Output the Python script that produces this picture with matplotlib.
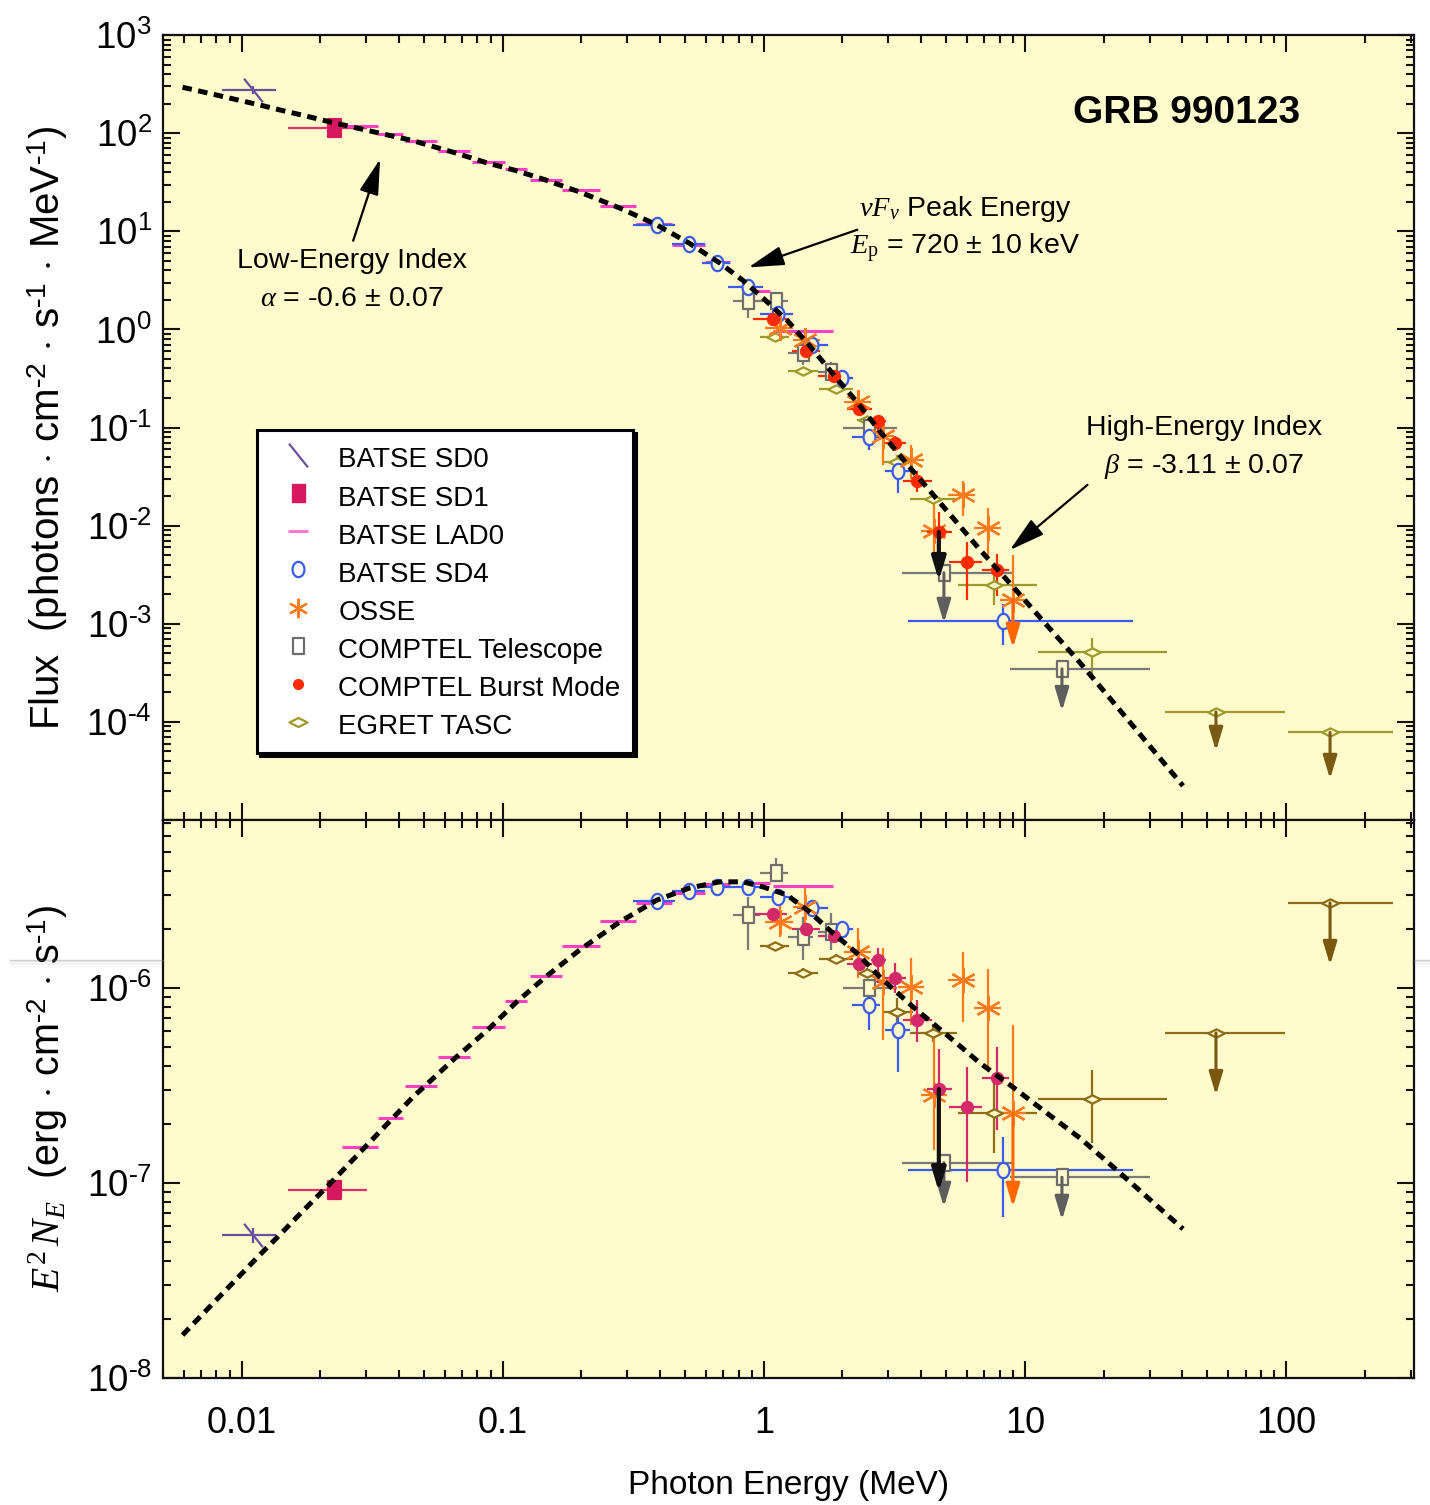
import numpy as np
import matplotlib
matplotlib.use("Agg")
import matplotlib.pyplot as plt
from matplotlib.path import Path
from matplotlib.lines import Line2D
from matplotlib.ticker import LogLocator, FuncFormatter, NullFormatter

plt.rcParams["font.family"] = ["Liberation Sans", "DejaVu Sans"]
plt.rcParams["mathtext.fontset"] = "custom"
plt.rcParams["mathtext.rm"] = "Liberation Serif"
plt.rcParams["mathtext.it"] = "Liberation Serif:italic"
plt.rcParams["mathtext.bf"] = "Liberation Serif:bold"
plt.rcParams["mathtext.sf"] = "Liberation Sans"

MEV_TO_ERG = 1.602e-6
nan = np.nan

# ---------------- data: energies in MeV, E^2 N_E in erg cm^-2 s^-1 ----------------
# Band-function fit (dashed curve)
model_energy = [0.00594, 0.00748, 0.00957, 0.01172, 0.0140, 0.01714, 0.02193, 0.0266,
                0.0338, 0.0452, 0.0655, 0.0877, 0.1122, 0.1449, 0.1972, 0.2806, 0.389,
                0.5206, 0.678, 0.831, 0.991, 1.225, 1.500, 1.838, 2.271, 2.782, 3.724,
                5.024, 6.724, 8.996, 12.14, 16.24, 21.74, 29.33, 40.3]
model_nufnu = [1.66e-8, 2.29e-8, 3.22e-8, 4.27e-8, 5.42e-8, 7.17e-8, 1.00e-7, 1.31e-7,
               1.83e-7, 2.75e-7, 4.35e-7, 6.10e-7, 8.40e-7, 1.13e-6, 1.567e-6, 2.18e-6, 2.82e-6,
               3.26e-6, 3.50e-6, 3.50e-6, 3.30e-6, 3.00e-6, 2.45e-6, 1.91e-6, 1.51e-6,
               1.137e-6, 8.0e-7, 5.74e-7, 4.12e-7, 3.10e-7, 2.28e-7, 1.70e-7, 1.21e-7,
               8.48e-8, 5.81e-8]

# BATSE SD0
sd0_e = [0.01102]; sd0_elo = [0.00838]; sd0_ehi = [0.01349]
sd0_v = [5.41e-8]; sd0_vlo = [4.92e-8]; sd0_vhi = [5.87e-8]

# BATSE SD1
sd1_e = [0.0225]; sd1_elo = [0.0150]; sd1_ehi = [0.0301]
sd1_v = [9.2e-8]; sd1_vlo = [nan]; sd1_vhi = [nan]

# BATSE LAD0
lad_e = [0.0283, 0.0372, 0.0485, 0.0649, 0.0877, 0.1112, 0.1462, 0.1972, 0.2759,
         0.379, 0.516, 0.661, 0.932, 1.474]
lad_elo = [0.0242, 0.0332, 0.0421, 0.0564, 0.0761, 0.1019, 0.1269, 0.1683, 0.2353,
           0.3235, 0.4443, 0.5942, 0.831, 1.083]
lad_ehi = [0.0332, 0.0414, 0.0559, 0.0748, 0.1019, 0.1236, 0.1683, 0.2353, 0.3235,
           0.4443, 0.5942, 0.7413, 1.054, 1.838]
lad_v = [1.53e-7, 2.15e-7, 3.15e-7, 4.45e-7, 6.3e-7, 8.6e-7, 1.15e-6, 1.65e-6, 2.20e-6,
         2.73e-6, 3.07e-6, 3.42e-6, 3.45e-6, 3.33e-6]

# BATSE SD4
sd4_e = [0.389, 0.516, 0.661, 0.869, 1.131, 1.527, 1.99, 2.525, 3.262, 8.24]
sd4_elo = [0.315, 0.444, 0.579, 0.728, 0.965, 1.337, 1.871, 2.17, 2.90, 3.56]
sd4_ehi = [0.456, 0.594, 0.741, 0.991, 1.291, 1.759, 2.193, 2.78, 3.63, 25.9]
sd4_v = [2.79e-6, 3.14e-6, 3.30e-6, 3.30e-6, 2.93e-6, 2.57e-6, 2.01e-6, 8.18e-7, 6.09e-7, 1.17e-7]
sd4_vlo = [2.70e-6, 3.05e-6, 3.20e-6, 3.15e-6, 2.80e-6, 2.45e-6, 1.90e-6, 6.09e-7, 3.71e-7, 6.68e-8]
sd4_vhi = [2.88e-6, 3.23e-6, 3.40e-6, 3.45e-6, 3.06e-6, 2.69e-6, 2.12e-6, 8.99e-7, 7.10e-7, 1.72e-7]

# OSSE
osse_e = [1.152, 1.436, 2.292, 2.858, 3.656, 4.478, 5.785, 7.211, 8.996]
osse_elo = [1.009, 1.291, 2.03, 2.55, 3.27, 4.00, 5.07, 6.40, 8.00]
osse_ehi = [1.291, 1.639, 2.57, 3.15, 4.10, 5.02, 6.43, 8.10, 10.1]
osse_v = [2.18e-6, 2.60e-6, 1.53e-6, 1.07e-6, 1.01e-6, 2.82e-7, 1.10e-6, 7.89e-7, 2.28e-7]
osse_vlo = [1.83e-6, 2.10e-6, 1.125e-6, 5.41e-7, 6.46e-7, 1.48e-7, 6.69e-7, 3.94e-7, 2.28e-7]
osse_vhi = [2.73e-6, 3.26e-6, 2.03e-6, 1.60e-6, 1.42e-6, 5.88e-7, 1.53e-6, 1.25e-6, 6.46e-7]
osse_tip_flux = [nan, nan, nan, nan, nan, nan, nan, nan, 5.69e-4]
osse_tip_nufnu = [nan, nan, nan, nan, nan, nan, nan, nan, 7.53e-8]

# COMPTEL Telescope
tel_e = [0.869, 1.112, 1.41, 1.806, 2.525, 4.893, 13.86]
tel_elo = [0.76, 0.965, 1.236, 1.61, 2.009, 3.38, 8.76]
tel_ehi = [0.965, 1.236, 1.541, 2.009, 3.234, 8.92, 30.1]
tel_v = [2.37e-6, 3.89e-6, 1.83e-6, 1.94e-6, 1.0e-6, 1.27e-7, 1.07e-7]
tel_vlo = [1.567e-6, 3.58e-6, 1.39e-6, 1.567e-6, 9.3e-7, nan, nan]
tel_vhi = [2.93e-6, 4.64e-6, 2.31e-6, 2.42e-6, 1.08e-6, nan, nan]
tel_tip_flux = [nan, nan, nan, nan, nan, 1.02e-3, 1.29e-4]
tel_tip_nufnu = [nan, nan, nan, nan, nan, 7.53e-8, 6.46e-8]

# COMPTEL Burst Mode
bm_e = [1.083, 1.449, 1.854, 2.312, 2.733, 3.176, 3.857, 4.68, 5.993, 7.813]
bm_elo = [0.908, 1.28, 1.61, 2.08, 2.58, 2.90, 3.41, 4.20, 5.11, 6.84]
bm_ehi = [1.225, 1.64, 2.08, 2.59, 2.93, 3.50, 4.40, 5.25, 6.84, 8.69]
bm_v = [2.39e-6, 2.01e-6, 1.85e-6, 1.33e-6, 1.39e-6, 1.125e-6, 6.86e-7, 3.03e-7, 2.46e-7, 3.46e-7]
bm_vlo = [2.25e-6, 1.90e-6, 1.75e-6, 1.25e-6, 1.06e-6, 9.4e-7, 5.28e-7, 1.17e-7, 1.01e-7, 1.87e-7]
bm_vhi = [2.55e-6, 2.12e-6, 1.95e-6, 1.42e-6, 1.60e-6, 1.34e-6, 8.68e-7, 4.87e-7, 3.94e-7, 4.99e-7]
bm_tip_flux = [nan, nan, nan, nan, nan, nan, nan, 2.75e-3, nan, nan]
bm_tip_nufnu = [nan, nan, nan, nan, nan, nan, nan, 9.0e-8, nan, nan]

# EGRET TASC
eg_e = [1.102, 1.41, 1.888, 2.482, 3.234, 4.443, 7.607, 18.06, 53.9, 147.4]
eg_elo = [0.965, 1.236, 1.62, 2.27, 2.86, 3.63, 5.53, 11.2, 34.4, 101.8]
eg_ehi = [1.25, 1.61, 2.19, 2.78, 3.72, 5.49, 11.1, 35.0, 99.1, 257.0]
eg_v = [1.64e-6, 1.19e-6, 1.41e-6, 1.19e-6, 7.53e-7, 5.88e-7, 2.28e-7, 2.70e-7, 5.88e-7, 2.73e-6]
eg_vlo = [1.55e-6, 1.12e-6, 1.33e-6, 1.12e-6, 6.69e-7, 5.3e-7, 1.43e-7, 1.61e-7, nan, nan]
eg_vhi = [1.73e-6, 1.26e-6, 1.49e-6, 1.26e-6, 8.9e-7, 6.5e-7, 3.25e-7, 3.79e-7, nan, nan]
eg_tip_flux = [nan, nan, nan, nan, nan, nan, nan, nan, 5.06e-5, 2.62e-5]
eg_tip_nufnu = [nan, nan, nan, nan, nan, nan, nan, nan, 2.82e-7, 1.31e-6]

legend_labels = ["BATSE SD0", "BATSE SD1", "BATSE LAD0", "BATSE SD4", "OSSE",
                 "COMPTEL Telescope", "COMPTEL Burst Mode", "EGRET TASC"]
x_tick_values = [0.01, 0.1, 1, 10, 100]

# ---------------- marker shapes ----------------
_t = np.linspace(0, 2 * np.pi, 41)
ELLIPSE = Path(np.column_stack([0.78 * np.cos(_t), np.sin(_t)]), closed=True)
RECT = Path([(-0.72, -1), (0.72, -1), (0.72, 1), (-0.72, 1), (-0.72, -1)], closed=True)
DIAMOND = Path([(-1, 0), (0, 0.5), (1, 0), (0, -0.5), (-1, 0)], closed=True)
SLASH = Path([(-0.8, 1), (0.8, -1)], [Path.MOVETO, Path.LINETO])
ASTER = (6, 2, 0)

BG = "#FFFBCC"


def to_flux(e, v):
    e = np.asarray(e, float)
    return np.asarray(v, float) / (e ** 2 * MEV_TO_ERG)


def series(ax, e, elo, ehi, v, vlo, vhi, color, marker, ms, mfc, bar_color=None,
           mew=1.6, elw=1.6, z=3):
    e = np.asarray(e, float); elo = np.asarray(elo, float); ehi = np.asarray(ehi, float)
    v = np.asarray(v, float); vlo = np.asarray(vlo, float); vhi = np.asarray(vhi, float)
    bc = bar_color or color
    ax.errorbar(e, v, xerr=[e - elo, ehi - e], fmt="none", ecolor=bc,
                elinewidth=elw, capsize=0, zorder=z)
    ok = ~np.isnan(vlo)
    if ok.any():
        ax.errorbar(e[ok], v[ok], yerr=[v[ok] - vlo[ok], vhi[ok] - v[ok]], fmt="none",
                    ecolor=bc, elinewidth=elw, capsize=0, zorder=z)
    if marker is not None:
        ax.plot(e, v, ls="none", marker=marker, ms=ms, mfc=mfc, mec=color, mew=mew,
                zorder=z + 0.5)


def limits(ax, e, v, tip, color, lw=2.2, hl=1.0, hw=0.3, z=4):
    for xi, yi, ti in zip(e, v, tip):
        if np.isnan(ti):
            continue
        ax.annotate("", xy=(xi, ti), xytext=(xi, yi), xycoords="data",
                    arrowprops=dict(arrowstyle=f"-|>,head_length={hl},head_width={hw}",
                                    color=color, lw=lw, shrinkA=0, shrinkB=0,
                                    mutation_scale=14), zorder=z)


fig = plt.figure(figsize=(14.30, 15.05), dpi=100)
ax1 = fig.add_axes([0.1140, 0.4551, 0.8748, 0.5216])
ax2 = fig.add_axes([0.1140, 0.0844, 0.8748, 0.3708])

panels = [
    # (axes, transform, colours that differ between panels)
    (ax1, to_flux, dict(bm="#FF2A00", eg="#9E9B2C", egarrow="#7A5A12")),
    (ax2, lambda e, v: np.asarray(v, float), dict(bm="#D42A6A", eg="#8E6C18", egarrow="#7A5810")),
]

for ax, conv, col in panels:
    ax.set_facecolor(BG)
    ax.set_xscale("log")
    ax.set_yscale("log")

    def c(e, v):
        return conv(e, v)

    series(ax, sd0_e, sd0_elo, sd0_ehi, c(sd0_e, sd0_v), c(sd0_e, sd0_vlo), c(sd0_e, sd0_vhi),
           "#6B4FA0", SLASH, 17, "none", mew=1.6)
    series(ax, sd1_e, sd1_elo, sd1_ehi, c(sd1_e, sd1_v), c(sd1_e, sd1_vlo), c(sd1_e, sd1_vhi),
           "#D6195F", RECT, 13, "#D6195F", bar_color="#E0306A")
    series(ax, lad_e, lad_elo, lad_ehi, c(lad_e, lad_v), [nan] * len(lad_e), [nan] * len(lad_e),
           "#FF3FC4", None, 0, "none", elw=2.2)
    series(ax, eg_e, eg_elo, eg_ehi, c(eg_e, eg_v), c(eg_e, eg_vlo), c(eg_e, eg_vhi),
           col["eg"], DIAMOND, 12, BG)
    series(ax, tel_e, tel_elo, tel_ehi, c(tel_e, tel_v), c(tel_e, tel_vlo), c(tel_e, tel_vhi),
           "#6E6E6E", RECT, 11, BG, bar_color="#7A7A7A")
    series(ax, sd4_e, sd4_elo, sd4_ehi, c(sd4_e, sd4_v), c(sd4_e, sd4_vlo), c(sd4_e, sd4_vhi),
           "#3A5CF5", ELLIPSE, 11, BG)
    series(ax, osse_e, osse_elo, osse_ehi, c(osse_e, osse_v), c(osse_e, osse_vlo),
           c(osse_e, osse_vhi), "#FF7A1A", ASTER, 18, "none", mew=1.6)
    series(ax, bm_e, bm_elo, bm_ehi, c(bm_e, bm_v), c(bm_e, bm_vlo), c(bm_e, bm_vhi),
           col["bm"], "o", 8, col["bm"])

    tip_key = 0 if ax is ax1 else 1
    limits(ax, tel_e, c(tel_e, tel_v), [tel_tip_flux, tel_tip_nufnu][tip_key], "#5E5E5E")
    limits(ax, osse_e, c(osse_e, osse_v), [osse_tip_flux, osse_tip_nufnu][tip_key], "#FF6600")
    limits(ax, bm_e, c(bm_e, bm_v), [bm_tip_flux, bm_tip_nufnu][tip_key], "#111111", lw=3.0)
    limits(ax, eg_e, c(eg_e, eg_v), [eg_tip_flux, eg_tip_nufnu][tip_key], col["egarrow"])

    ax.plot(model_energy, c(model_energy, model_nufnu), color="k", lw=3.6,
            ls=(0, (1.9, 1.3)), dash_capstyle="butt", zorder=8)

    ax.set_xlim(0.005, 309)
    ax.xaxis.set_major_locator(LogLocator(base=10, numticks=20))
    ax.xaxis.set_minor_locator(LogLocator(base=10, subs=np.arange(2, 10), numticks=200))
    ax.yaxis.set_major_locator(LogLocator(base=10, numticks=30))
    ax.yaxis.set_minor_locator(LogLocator(base=10, subs=np.arange(2, 10), numticks=300))
    ax.xaxis.set_minor_formatter(NullFormatter())
    ax.yaxis.set_minor_formatter(NullFormatter())
    ax.tick_params(which="both", direction="in", top=True, right=True, width=1.5,
                   color="#111111")
    ax.tick_params(which="major", length=12)
    ax.tick_params(which="minor", length=6)
    ax.tick_params(axis="y", which="major", labelsize=26.5, pad=8)
    for s in ax.spines.values():
        s.set_linewidth(1.6)
        s.set_color("#111111")

ax1.set_ylim(1e-5, 1e3)
ax2.set_ylim(1e-8, 7.27e-6)


def ylab(lo_hidden):
    def f(v, pos):
        k = int(round(np.log10(v)))
        if k == lo_hidden:
            return ""
        if k < 0:
            return r"$\mathregular{10^{\text{-}%d}}$" % (-k)
        return r"$\mathregular{10^{%d}}$" % k
    return FuncFormatter(f)


ax1.yaxis.set_major_formatter(ylab(-5))
ax2.yaxis.set_major_formatter(ylab(99))
ax1.tick_params(axis="x", labelbottom=False)
ax2.xaxis.set_major_formatter(FuncFormatter(
    lambda v, p: f"{v:g}" if any(np.isclose(v, t) for t in x_tick_values) else ""))
ax2.tick_params(axis="x", which="major", labelsize=26, pad=20)

ax1.set_ylabel(r"Flux  (photons $\cdot$ cm$^{\mathregular{\text{-}2}}$ $\cdot$ "
               r"s$^{\mathregular{\text{-}1}}$ $\cdot$ MeV$^{\mathregular{\text{-}1}}$)",
               fontsize=29)
ax1.yaxis.set_label_coords(-0.0745, 0.5)
ax2.set_ylabel(r"$E^{2}\,N_{E}$  (erg $\cdot$ cm$^{\mathregular{\text{-}2}}$ $\cdot$ "
               r"s$^{\mathregular{\text{-}1}}$)", fontsize=28.5)
ax2.yaxis.set_label_coords(-0.0745, 0.5)
ax2.set_xlabel("Photon Energy (MeV)", fontsize=24, labelpad=21)

# ---------------- legend ----------------
handles = [
    Line2D([], [], ls="none", marker=SLASH, ms=17, mfc="none", mec="#6B4FA0", mew=1.6),
    Line2D([], [], ls="none", marker=RECT, ms=13, mfc="#D6195F", mec="#D6195F"),
    Line2D([], [], ls="none", marker="_", ms=15, mec="#FF6FD0", mew=2.0),
    Line2D([], [], ls="none", marker=ELLIPSE, ms=11, mfc="none", mec="#3A5CF5", mew=1.6),
    Line2D([], [], ls="none", marker=ASTER, ms=14, mec="#FF7A1A", mew=1.6),
    Line2D([], [], ls="none", marker=RECT, ms=11, mfc="none", mec="#6E6E6E", mew=1.6),
    Line2D([], [], ls="none", marker="o", ms=7, mfc="#FF2A00", mec="#FF2A00"),
    Line2D([], [], ls="none", marker=DIAMOND, ms=13, mfc="none", mec="#9E9B2C", mew=1.6),
]
leg = ax1.legend(handles, legend_labels, loc="upper left", bbox_to_anchor=(0.0751, 0.4968),
                 borderaxespad=0, fontsize=20, frameon=True, fancybox=False,
                 shadow={"color": "black", "alpha": 1.0}, edgecolor="black",
                 facecolor="white", framealpha=1.0, borderpad=0.45, handlelength=2.05,
                 handleheight=1.35, handletextpad=0.43, labelspacing=0.25)
leg.get_frame().set_linewidth(2.2)
leg.set_zorder(20)

# ---------------- annotations ----------------
arrow_kw = dict(arrowstyle="-|>,head_length=1.1,head_width=0.3", color="k", lw=1.6,
                shrinkA=0, shrinkB=0, mutation_scale=20)
ax1.text(0.818, 0.901, "GRB 990123", transform=ax1.transAxes, ha="center", va="center",
         fontsize=28, fontweight="bold")

ax1.text(0.151, 0.712, "Low-Energy Index", transform=ax1.transAxes, ha="center",
         va="center", fontsize=20.5)
ax1.text(0.151, 0.664, r"$\alpha$ = -0.6 ± 0.07", transform=ax1.transAxes, ha="center",
         va="center", fontsize=20.5)
ax1.annotate("", xy=(0.1735, 0.842), xytext=(0.152, 0.738), xycoords="axes fraction",
             arrowprops=arrow_kw)

ax1.text(0.641, 0.778, r"$\nu F_{\nu}$ Peak Energy", transform=ax1.transAxes, ha="center",
         va="center", fontsize=20.5)
ax1.text(0.641, 0.729, r"$E_{\mathrm{p}}$ = 720 ± 10 keV", transform=ax1.transAxes,
         ha="center", va="center", fontsize=20.5)
ax1.annotate("", xy=(0.468, 0.704), xytext=(0.555, 0.752), xycoords="axes fraction",
             arrowprops=arrow_kw)

ax1.text(0.832, 0.499, "High-Energy Index", transform=ax1.transAxes, ha="center",
         va="center", fontsize=20.5)
ax1.text(0.832, 0.451, r"$\beta$ = -3.11 ± 0.07", transform=ax1.transAxes, ha="center",
         va="center", fontsize=20.5)
ax1.annotate("", xy=(0.677, 0.344), xytext=(0.739, 0.427), xycoords="axes fraction",
             arrowprops=arrow_kw)

# faint page shadow in the side margins
for i, a in enumerate([0.35, 0.14, 0.09, 0.06, 0.04, 0.025]):
    yy = 1 - (960 + i * 1.4) / 1505
    for x0, x1 in [(10 / 1430, 163 / 1430), (1414 / 1430, 1.0)]:
        fig.add_artist(Line2D([x0, x1], [yy, yy], transform=fig.transFigure,
                              color="0.5", alpha=a, lw=1.0))

fig.savefig("out.png", dpi=100, facecolor="white")
